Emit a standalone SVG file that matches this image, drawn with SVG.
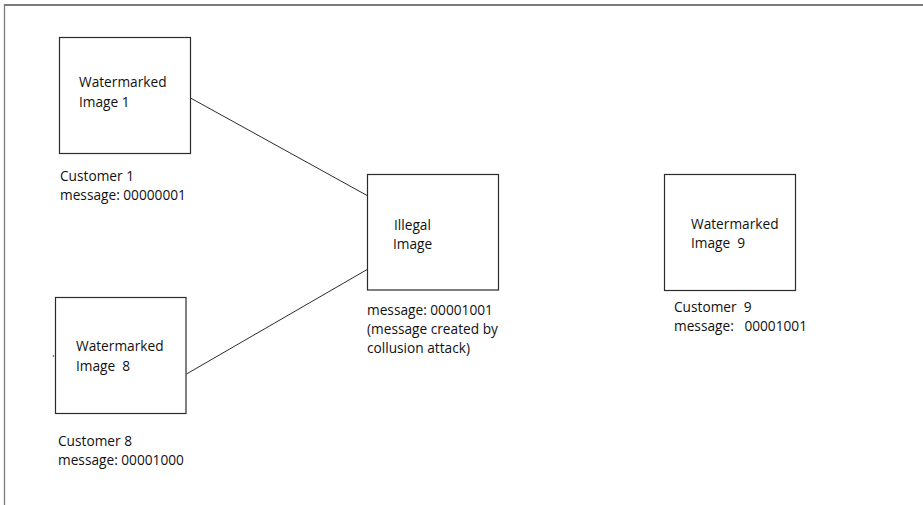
<svg xmlns="http://www.w3.org/2000/svg" width="923" height="505" viewBox="0 0 923 505">
  <style>
    .box { fill: #ffffff; stroke: #2b2b2b; stroke-width: 1.2; }
    .edge { stroke: #2b2b2b; stroke-width: 1; fill: none; }
    .frame { stroke: #7a7a7a; fill: none; }
    text { font-family: "Open Sans", "Noto Sans", sans-serif; font-size: 13.7px; fill: #111111; white-space: pre; }
  </style>
  <rect width="923" height="505" fill="#ffffff"/>

  <!-- outer frame: top and left edges -->
  <g id="frame">
    <line class="frame" x1="4" y1="5" x2="923" y2="5" stroke-width="2"/>
    <line class="frame" x1="4.5" y1="4" x2="4.5" y2="505" stroke-width="1.3"/>
  </g>

  <!-- connectors into the illegal copy -->
  <g id="connectors">
    <line class="edge" x1="190.5" y1="98" x2="368" y2="196"/>
    <line class="edge" x1="186.5" y1="374" x2="368" y2="269"/>
  </g>

  <g id="image1">
    <rect class="box" x="59.5" y="37.5" width="131" height="116"/>
    <text x="79" y="87">Watermarked</text>
    <text x="79" y="107">Image 1</text>
    <text x="60" y="181">Customer 1</text>
    <text x="60" y="200">message: 00000001</text>
  </g>

  <g id="image8">
    <rect class="box" x="55.5" y="297.5" width="130.5" height="116"/>
    <circle cx="53.5" cy="356" r="0.8" fill="#333"/>
    <text x="76" y="351">Watermarked</text>
    <text x="76" y="371" xml:space="preserve">Image  8</text>
    <text x="58" y="446">Customer 8</text>
    <text x="58" y="465">message: 00001000</text>
  </g>

  <g id="illegal">
    <rect class="box" x="367.5" y="174.5" width="131" height="115.5"/>
    <text x="394" y="229.5">Illegal</text>
    <text x="393" y="248.5">Image</text>
    <text x="367" y="315">message: 00001001</text>
    <text x="367" y="334">(message created by</text>
    <text x="367" y="353">collusion attack)</text>
  </g>

  <g id="image9">
    <rect class="box" x="664.5" y="174.5" width="131" height="116"/>
    <text x="691" y="229">Watermarked</text>
    <text x="691" y="248" xml:space="preserve">Image  9</text>
    <text x="674" y="312" xml:space="preserve">Customer  9</text>
    <text x="674" y="331" xml:space="preserve">message:   00001001</text>
  </g>
</svg>
